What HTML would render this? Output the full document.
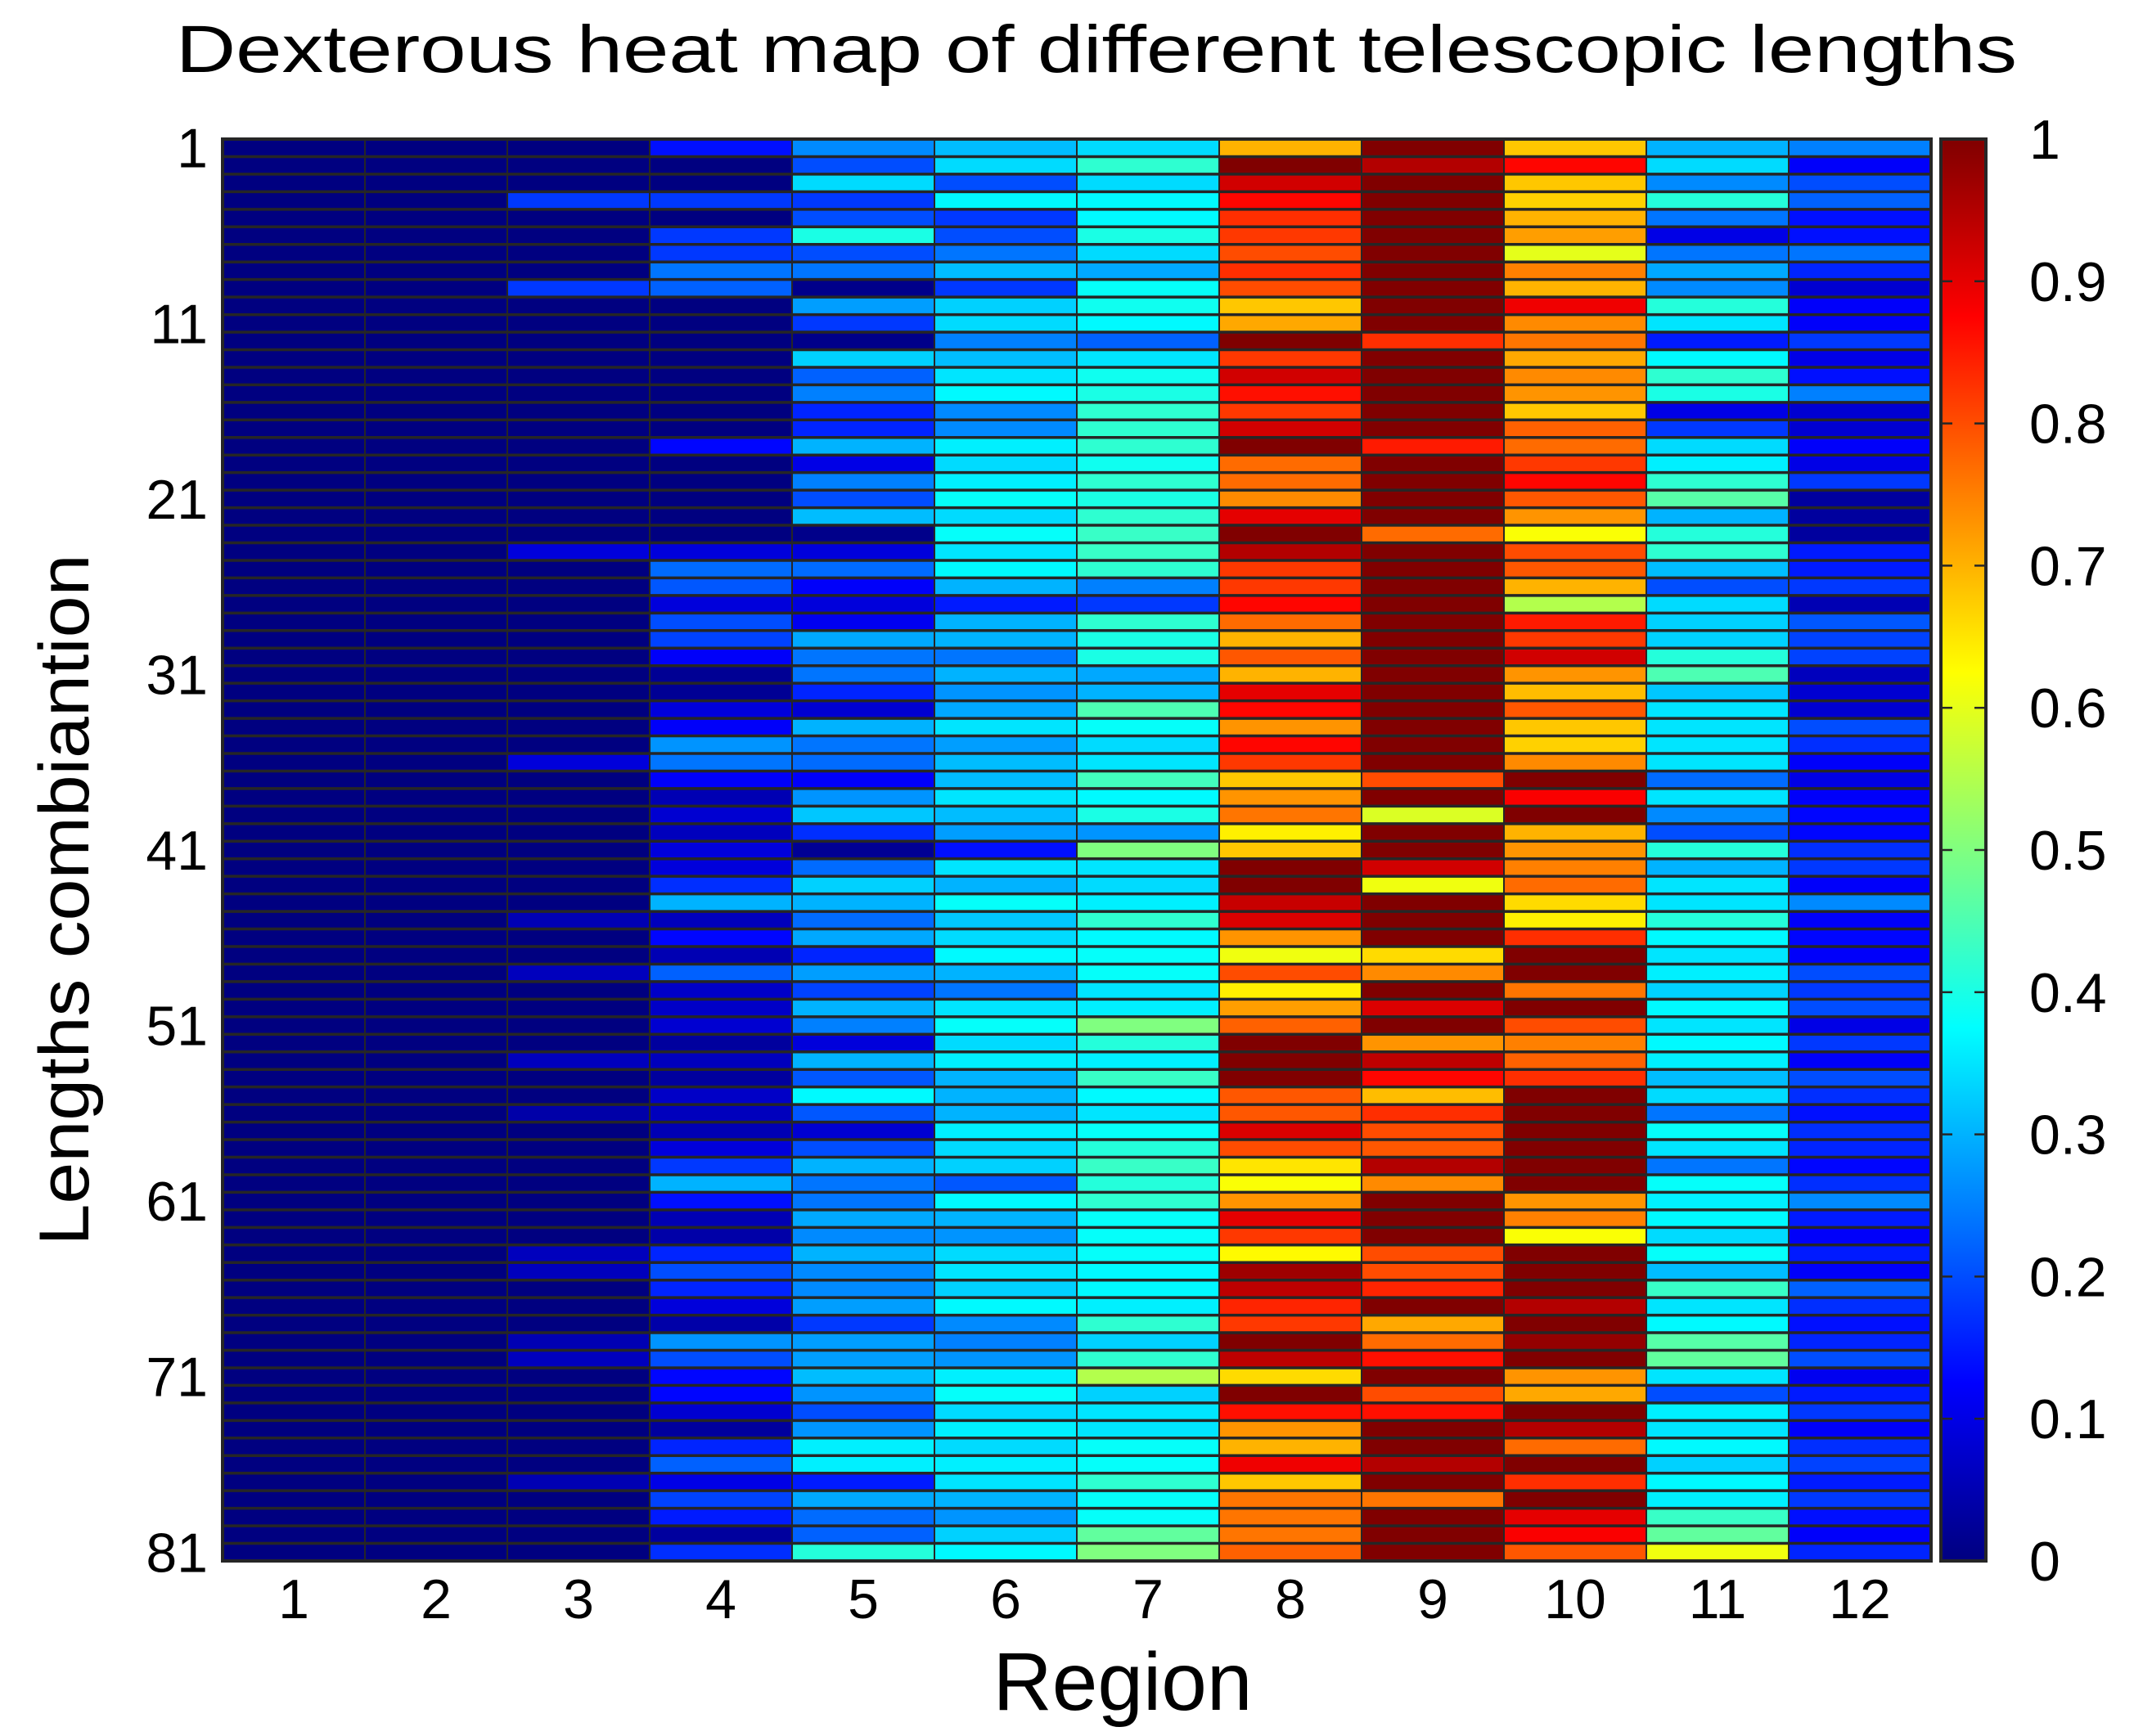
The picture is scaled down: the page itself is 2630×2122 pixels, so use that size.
<!DOCTYPE html>
<html><head><meta charset="utf-8">
<style>
html,body{margin:0;padding:0;background:#fff;}
svg{display:block;font-family:"Liberation Sans",Arial,sans-serif;}
</style></head>
<body>
<svg id="chart" width="2630" height="2122" viewBox="0 0 2630 2122" xmlns="http://www.w3.org/2000/svg">
<rect x="0" y="0" width="2630" height="2122" fill="#fff"/>
<text x="1340" y="88" font-size="82" text-anchor="middle" textLength="2250" lengthAdjust="spacingAndGlyphs">Dexterous heat map of different telescopic lengths</text>
<text x="1372" y="2090" font-size="100" text-anchor="middle">Region</text>
<text transform="translate(108,1100) rotate(-90)" font-size="86" text-anchor="middle" textLength="845" lengthAdjust="spacingAndGlyphs">Lengths combiantion</text>
<g id="cells"></g>
<g id="grid"></g>
<g id="yticks"></g>
<g id="xticks"></g>
<defs><linearGradient id="jetgrad" x1="0" y1="1" x2="0" y2="0"></linearGradient></defs>
<rect x="2372" y="170" width="55" height="1738" fill="url(#jetgrad)" stroke="#262626" stroke-width="4"/>
<g id="cticks"></g>
</svg>
<script>
const regions = ["1","2","3","4","5","6","7","8","9","10","11","12"];
const yTickLabels = ["1","11","21","31","41","51","61","71","81"];
const colorbarTicks = ["0","0.1","0.2","0.3","0.4","0.5","0.6","0.7","0.8","0.9","1"];
const rows1to20 = [
[0,0,0,.14,.26,.31,.34,.70,1,.68,.30,.25],
[0,0,0,0,.20,.34,.42,1,.95,.87,.34,.12],
[0,0,0,0,.34,.20,.34,.92,1,.68,.26,.20],
[0,0,.18,.18,.18,.37,.37,.87,1,.67,.41,.22],
[0,0,0,0,.20,.18,.37,.83,1,.70,.24,.14],
[0,0,0,.18,.40,.20,.40,.82,1,.72,.10,.14],
[0,0,0,.18,.20,.24,.34,.80,1,.60,.24,.24],
[0,0,0,.24,.24,.31,.29,.83,1,.75,.29,.16],
[0,0,.18,.22,.01,.18,.38,.80,1,.70,.26,.08],
[0,0,0,0,.28,.33,.39,.68,1,.89,.41,.12],
[0,0,0,0,.18,.34,.37,.71,1,.74,.35,.12],
[0,0,0,0,.01,.25,.22,1,.83,.76,.15,.18],
[0,0,0,0,.33,.31,.35,.82,1,.71,.37,.10],
[0,0,0,0,.22,.35,.39,.92,1,.74,.42,.14],
[0,0,0,0,.25,.37,.40,.86,1,.73,.40,.25],
[0,0,0,0,.16,.26,.42,.82,1,.68,.10,.08],
[0,0,0,0,.16,.26,.42,.92,1,.78,.18,.08],
[0,0,0,.13,.30,.36,.42,1,.85,.77,.34,.12],
[0,0,0,0,.10,.34,.39,.77,1,.82,.36,.10],
[0,0,0,0,.25,.36,.42,.77,1,.87,.42,.18]
];
const rows21to40 = [
[0,0,0,0,.20,.38,.40,.74,1,.79,.46,.03],
[0,0,0,0,.31,.34,.42,.90,1,.73,.30,.03],
[0,0,0,0,.01,.38,.43,1,.77,.62,.41,.03],
[0,0,.09,.09,.09,.35,.43,.95,1,.80,.42,.15],
[0,0,0,.23,.23,.37,.42,.82,1,.79,.31,.15],
[0,0,0,.21,.12,.30,.25,.82,1,.70,.20,.18],
[0,0,0,.09,.09,.15,.18,.87,1,.55,.34,.05],
[0,0,0,.20,.11,.30,.42,.77,1,.85,.33,.21],
[0,0,0,.19,.29,.30,.40,.70,1,.82,.33,.19],
[0,0,0,.12,.24,.24,.40,.79,1,.92,.41,.19],
[0,0,0,.02,.24,.30,.29,.70,1,.73,.45,.06],
[0,0,0,.02,.16,.27,.30,.90,1,.69,.32,.08],
[0,0,0,.09,.08,.29,.45,.87,1,.79,.35,.08],
[0,0,0,.12,.30,.35,.38,.73,1,.68,.35,.20],
[0,0,0,.27,.24,.28,.34,.87,1,.67,.35,.17],
[0,0,.09,.24,.23,.31,.35,.82,1,.74,.35,.12],
[0,0,0,.12,.12,.31,.44,.68,.80,1,.23,.10],
[0,0,0,.05,.27,.35,.37,.73,1,.88,.35,.12],
[0,0,0,.08,.32,.31,.40,.76,.59,1,.26,.13],
[0,0,0,.06,.17,.28,.27,.64,1,.70,.20,.13]
];
const rows41to60 = [
[0,0,0,.09,.02,.14,.50,.68,1,.73,.41,.17],
[0,0,0,.09,.23,.35,.35,1,.92,.75,.30,.18],
[0,0,0,.17,.33,.30,.34,1,.61,.77,.35,.12],
[0,0,0,.30,.30,.38,.36,.93,1,.66,.35,.26],
[0,0,.05,.06,.23,.32,.42,.91,1,.64,.41,.12],
[0,0,0,.13,.29,.34,.37,.73,1,.83,.37,.13],
[0,0,0,.05,.16,.37,.38,.61,.66,1,.35,.12],
[0,0,.06,.22,.28,.30,.38,.80,.74,1,.36,.20],
[0,0,0,.07,.19,.24,.35,.64,1,.76,.33,.18],
[0,0,0,.07,.30,.35,.36,.72,.91,1,.37,.20],
[0,0,0,.08,.25,.38,.50,.78,1,.80,.35,.10],
[0,0,0,.03,.09,.34,.41,1,.73,.75,.37,.18],
[0,0,.06,.06,.30,.36,.36,1,.94,.78,.36,.12],
[0,0,0,.03,.21,.30,.43,1,.87,.83,.31,.20],
[0,0,0,.07,.37,.30,.37,.79,.69,1,.34,.17],
[0,0,.04,.06,.21,.30,.35,.79,.83,1,.24,.14],
[0,0,0,.05,.08,.36,.38,.91,.80,1,.38,.17],
[0,0,0,.09,.20,.34,.41,.80,.79,1,.35,.16],
[0,0,0,.18,.30,.33,.43,.65,.95,1,.24,.13],
[0,0,0,.30,.24,.21,.41,.62,.74,1,.38,.17]
];
const rows61to81 = [
[0,0,0,.14,.24,.37,.42,.73,1,.73,.36,.26],
[0,0,0,.05,.29,.30,.38,.90,1,.75,.37,.15],
[0,0,0,.04,.26,.27,.38,.82,1,.62,.34,.12],
[0,0,.06,.16,.30,.34,.38,.63,.80,1,.38,.15],
[0,0,.06,.20,.26,.35,.37,.97,.80,1,.31,.12],
[0,0,0,.16,.26,.33,.37,.94,.84,1,.43,.22],
[0,0,0,.09,.28,.37,.36,.84,1,.95,.35,.17],
[0,0,0,.04,.18,.26,.42,.82,.71,1,.37,.14],
[0,0,.05,.27,.28,.25,.33,1,.77,.98,.46,.16],
[0,0,.06,.20,.28,.27,.42,.94,.86,1,.47,.20],
[0,0,0,.13,.31,.36,.55,.66,1,.73,.35,.11],
[0,0,0,.13,.27,.38,.33,1,.80,.71,.20,.15],
[0,0,0,.08,.20,.34,.35,.86,.86,1,.36,.18],
[0,0,0,.03,.27,.36,.35,.73,1,.95,.35,.12],
[0,0,0,.16,.36,.34,.38,.70,1,.77,.37,.17],
[0,0,0,.22,.36,.36,.38,.89,.95,1,.33,.19],
[0,0,.05,.10,.15,.35,.42,.68,1,.83,.37,.15],
[0,0,0,.19,.29,.30,.38,.76,.76,1,.36,.18],
[0,0,0,.15,.23,.27,.38,.76,1,.90,.43,.14],
[0,0,0,.03,.22,.33,.47,.76,1,.88,.47,.12],
[0,0,0,.17,.41,.37,.50,.78,1,.79,.61,.16]
];

const NS = "http://www.w3.org/2000/svg";
const plot = {x0: 272, x1: 2360, y0: 170, y1: 1908};
const cbar = {x0: 2372, x1: 2427, y0: 170, y1: 1908};
const values = rows1to20.concat(rows21to40, rows41to60, rows61to81);
const nRows = values.length, nCols = regions.length;
const colW = (plot.x1 - plot.x0) / nCols;
const rowH = (plot.y1 - plot.y0) / nRows;
function xScale(c) { return plot.x0 + c * colW; }
function yScale(r) { return plot.y0 + r * rowH; }
function cScale(v) { return cbar.y1 - v * (cbar.y1 - cbar.y0); }
function clamp(t) { return Math.max(0, Math.min(1, t)); }
function jet(v) {
  const r = clamp(1.5 - Math.abs(4 * v - 3));
  const g = clamp(1.5 - Math.abs(4 * v - 2));
  const b = clamp(1.5 - Math.abs(4 * v - 1));
  return "rgb(" + Math.round(r * 255) + "," + Math.round(g * 255) + "," + Math.round(b * 255) + ")";
}
function mk(tag, attrs) {
  const el = document.createElementNS(NS, tag);
  for (const k in attrs) el.setAttribute(k, attrs[k]);
  return el;
}

const cells = document.getElementById("cells");
for (let r = 0; r < nRows; r++) {
  for (let c = 0; c < nCols; c++) {
    const el = mk("rect", {x: xScale(c), y: yScale(r), width: colW, height: rowH, fill: jet(values[r][c])});
    
    
    cells.appendChild(el);
  }
}

const grid = document.getElementById("grid");
for (let r = 1; r < nRows; r++) {
  const el = mk("line", {x1: plot.x0, x2: plot.x1, y1: yScale(r), y2: yScale(r), stroke: "#262626", "stroke-width": 3.5});
  
  
  grid.appendChild(el);
}
for (let c = 1; c < nCols; c++) {
  const el = mk("line", {x1: xScale(c), x2: xScale(c), y1: plot.y0, y2: plot.y1, stroke: "#262626", "stroke-width": 2});
  
  
  grid.appendChild(el);
}
const frame = mk("rect", {x: plot.x0, y: plot.y0, width: plot.x1 - plot.x0, height: plot.y1 - plot.y0, fill: "none", stroke: "#262626", "stroke-width": 4});


grid.appendChild(frame);

const yt = document.getElementById("yticks");
yTickLabels.forEach(function (lab) {
  const r = parseInt(lab, 10) - 1;
  const el = mk("text", {x: 254, y: yScale(r) + rowH / 2 + 24, "font-size": 68, "text-anchor": "end"});
  el.textContent = lab;
  
  
  yt.appendChild(el);
});

const xt = document.getElementById("xticks");
regions.forEach(function (lab, c) {
  const el = mk("text", {x: xScale(c) + colW / 2, y: 1978, "font-size": 68, "text-anchor": "middle"});
  el.textContent = lab;
  
  
  xt.appendChild(el);
});

const grad = document.getElementById("jetgrad");
for (let i = 0; i <= 64; i++) {
  const v = i / 64;
  grad.appendChild(mk("stop", {offset: v, "stop-color": jet(v)}));
}
const ct = document.getElementById("cticks");
colorbarTicks.forEach(function (lab) {
  const v = parseFloat(lab);
  const y = cScale(v);
  if (v > 0 && v < 1) {
    const t1 = mk("line", {x1: cbar.x1 - 14, x2: cbar.x1, y1: y, y2: y, stroke: "#262626", "stroke-width": 2.5});
    
    
    ct.appendChild(t1);
    const t2 = mk("line", {x1: cbar.x0, x2: cbar.x0 + 14, y1: y, y2: y, stroke: "#262626", "stroke-width": 2.5});
    
    
    ct.appendChild(t2);
  }
  const el = mk("text", {x: 2480, y: y + 24, "font-size": 68, "text-anchor": "start"});
  el.textContent = lab;
  
  
  ct.appendChild(el);
});
</script>
</body></html>
